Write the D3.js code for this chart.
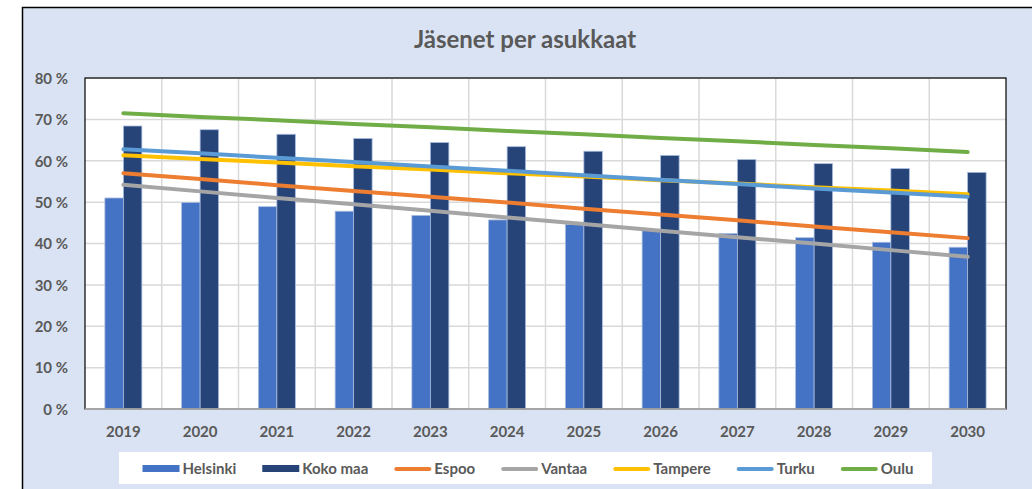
<!DOCTYPE html>
<html><head><meta charset="utf-8">
<script src="https://cdn.jsdelivr.net/npm/d3@7"></script>
<style>
html,body{margin:0;padding:0;background:#fff;}
svg{display:block;}
text{font-family:Lato,"Open Sans",sans-serif;font-weight:bold;fill:#595959;}
</style></head>
<body>
<svg id="chart" width="1032" height="489"></svg>
<script>
const years = ["2019","2020","2021","2022","2023","2024","2025","2026","2027","2028","2029","2030"];
const helsinki = [51.0,49.9,48.9,47.8,46.8,45.7,44.6,43.4,42.4,41.4,40.3,39.1];
const kokoMaa  = [68.4,67.5,66.4,65.4,64.4,63.4,62.3,61.3,60.3,59.3,58.1,57.2];
const espoo    = [57.0,55.6,54.1,52.7,51.3,49.9,48.4,47.0,45.6,44.1,42.7,41.3];
const vantaa   = [54.2,52.6,51.0,49.5,47.9,46.3,44.7,43.1,41.5,40.0,38.4,36.8];
const tampere  = [61.3,60.4,59.6,58.7,57.9,57.0,56.2,55.3,54.5,53.6,52.8,51.9];
const turku    = [62.8,61.8,60.7,59.7,58.6,57.6,56.5,55.4,54.4,53.3,52.3,51.3];
const oulu     = [71.5,70.6,69.8,68.9,68.1,67.2,66.4,65.5,64.7,63.8,63.0,62.1];
const yTicks = [0,10,20,30,40,50,60,70,80];
const title = "Jäsenet per asukkaat";

const barSeries = [
  {name:"Helsinki", values:helsinki, color:"#4472c4"},
  {name:"Koko maa", values:kokoMaa, color:"#264478"}
];
const lineSeries = [
  {name:"Espoo", values:espoo, color:"#ed7d31"},
  {name:"Vantaa", values:vantaa, color:"#a5a5a5"},
  {name:"Tampere", values:tampere, color:"#ffc000"},
  {name:"Turku", values:turku, color:"#5b9bd5"},
  {name:"Oulu", values:oulu, color:"#70ad47"}
];

const svg = d3.select("#chart");
svg.append("rect").attr("x",22.5).attr("y",7.5).attr("width",1030).attr("height",500)
  .attr("fill","#dae3f3").attr("stroke","#000").attr("stroke-width",1.5);

svg.append("text").attr("x",525).attr("y",48).attr("text-anchor","middle")
  .style("font-size","24px").text(title);

const plot = {left:85, right:1006, top:78, bottom:409};
svg.append("rect").attr("x",plot.left).attr("y",plot.top)
  .attr("width",plot.right-plot.left).attr("height",plot.bottom-plot.top).attr("fill","#fff");

const x = d3.scaleBand().domain(years).range([plot.left,plot.right]).paddingInner(0).paddingOuter(0);
const y = d3.scaleLinear().domain([0,80]).range([plot.bottom,plot.top]);
const xSub = d3.scaleBand().domain(barSeries.map(d=>d.name)).range([0,x.bandwidth()]).paddingInner(0).paddingOuter(1.075);

const g = svg.append("g");
g.selectAll("line.h").data(yTicks).join("line")
  .attr("x1",plot.left).attr("x2",plot.right).attr("y1",d=>y(d)).attr("y2",d=>y(d))
  .attr("stroke","#d9d9d9").attr("stroke-width",1.5);
g.selectAll("line.v").data(years.slice(1)).join("line")
  .attr("x1",d=>x(d)).attr("x2",d=>x(d)).attr("y1",plot.top).attr("y2",plot.bottom)
  .attr("stroke","#d9d9d9").attr("stroke-width",1.5);

barSeries.forEach(s=>{
  svg.append("g").selectAll("rect").data(years).join("rect")
    .attr("x",(d)=>x(d)+xSub(s.name))
    .attr("width",xSub.bandwidth())
    .attr("y",(d,i)=>y(s.values[i]))
    .attr("height",(d,i)=>plot.bottom-y(s.values[i]))
    .attr("fill",s.color).attr("stroke","#a9bde0").attr("stroke-width",0.8);
});

svg.append("rect").attr("x",plot.left).attr("y",plot.top)
  .attr("width",plot.right-plot.left).attr("height",plot.bottom-plot.top)
  .attr("fill","none").attr("stroke","#000").attr("stroke-width",1.2);
svg.append("line").attr("x1",plot.left).attr("x2",plot.right).attr("y1",plot.bottom).attr("y2",plot.bottom)
  .attr("stroke","#bfbfbf").attr("stroke-width",1.5);

const cx = d=>x(d)+x.bandwidth()/2;
lineSeries.forEach(s=>{
  const line = d3.line().x((d,i)=>cx(years[i])).y(d=>y(d));
  svg.append("path").datum(s.values).attr("d",line)
    .attr("fill","none").attr("stroke",s.color).attr("stroke-width",4).attr("stroke-linecap","round");
});

const yAxis = d3.axisLeft(y).tickValues(yTicks).tickSize(0).tickPadding(0).tickFormat(d=>d+" %");
const ya = svg.append("g").attr("transform","translate(68,0)").call(yAxis);
ya.select(".domain").remove();
ya.selectAll("text").style("font-size","15px").style("font-family","Lato").attr("fill","#595959").attr("dy","0.35em");

const xAxis = d3.axisBottom(x).tickSize(0).tickPadding(0);
const xa = svg.append("g").attr("transform",`translate(0,${plot.bottom})`).call(xAxis);
xa.select(".domain").remove();
xa.selectAll("text").style("font-size","15px").style("font-family","Lato").attr("fill","#595959").attr("y",23).attr("dy","0.35em");

const legend = svg.append("g");
legend.append("rect").attr("x",119).attr("y",452).attr("width",813).attr("height",32).attr("fill","#fff");
const items = barSeries.map(d=>({...d,type:"bar"})).concat(lineSeries.map(d=>({...d,type:"line"})));
const ly = 469;
const tmp = legend.append("g");
const widths = items.map(it=>{
  const t = tmp.append("text").style("font-size","15px").text(it.name);
  const w = t.node().getComputedTextLength(); t.remove(); return w;
});
const sw = 37, gapT = 3, gapItem = 26;
const total = d3.sum(widths) + items.length*(sw+gapT) + (items.length-1)*gapItem;
let cur = 528 - total/2;
items.forEach((it,i)=>{
  const gi = legend.append("g");
  if(it.type==="bar"){
    gi.append("rect").attr("x",cur).attr("y",ly-4).attr("width",sw).attr("height",7).attr("fill",it.color);
  } else {
    gi.append("line").attr("x1",cur+2).attr("x2",cur+sw-2).attr("y1",ly).attr("y2",ly)
      .attr("stroke",it.color).attr("stroke-width",4).attr("stroke-linecap","round");
  }
  gi.append("text").attr("x",cur+sw+gapT).attr("y",ly).attr("dy","0.35em").style("font-size","15px").text(it.name);
  cur += sw+gapT+widths[i]+gapItem;
});
</script>
</body></html>
